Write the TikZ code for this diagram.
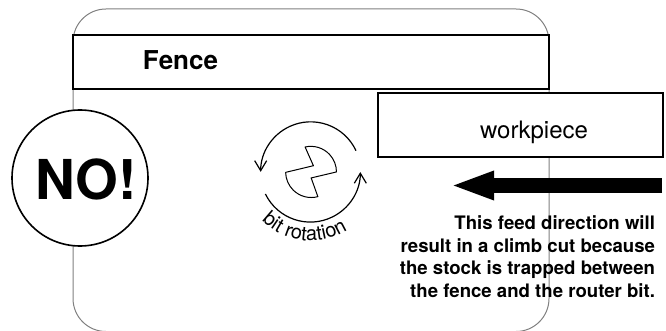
\documentclass[tikz,border=0pt]{standalone}
\usepackage{fontspec}
\setmainfont{TeX Gyre Heros}
\usetikzlibrary{arrows.meta,decorations.text}

\begin{document}
\begin{tikzpicture}[x=1pt,y=-1pt]

\tikzstyle{every node}=[inner sep=0pt,outer sep=0pt]
\tikzstyle{table}=[draw=black!50,line width=1pt]
\tikzstyle{stock}=[draw,line width=1.6pt,fill=white,rectangle]
\tikzstyle{bit}=[line width=1pt,line join=round]
\tikzstyle{spin}=[line width=1.2pt,-{Straight Barb[length=10pt,width=12pt,line width=1.2pt]}]

\useasboundingbox (0,0) rectangle (666,331);

\draw[table,rounded corners=33pt] (73,9) rectangle (549,331.5);

\node[stock,minimum width=476pt,minimum height=54pt] (fence) at (311,62) {};
\node[font=\bfseries\fontsize{26}{30}\selectfont] (fence_label) at (180.5,60) {Fence};

\node[stock,minimum width=285pt,minimum height=64pt] (workpiece) at (520.5,125) {};
\node[font=\fontsize{24}{28}\selectfont] (workpiece_label) at (534,132) {workpiece};

\node[stock,circle,minimum size=136pt] (no) at (80,178) {};
\node[font=\bfseries\fontsize{55}{60}\selectfont] (no_label) at (86,179) {NO!};

\pgfmathsetmacro\x{310.7}
\pgfmathsetmacro\y{171.7}

\coordinate (bit_center) at (\x,\y);

\draw[bit] (bit_center) ++(2.7,-6) -- ++(-8.3,-18.7)
  arc[start angle=103,end angle=0,radius=25.6pt]
  -- ++(-25.3,6) -- ++(6.7,18.7)
  arc[start angle=285,end angle=181,radius=25.6pt] -- cycle;

\draw[spin] (bit_center) ++(45.3,-21) arc[start angle=25,end angle=180,radius=50pt];
\draw[spin] (bit_center) ++(-45.3,22.3) arc[start angle=206,end angle=360,radius=50pt];

\path[decorate,decoration={text along path,text align=center,
  text={|\fontsize{20}{22}\selectfont|bit rotation}}]
  (bit_center) ++(-56.5,39.6) arc[start angle=215,end angle=312,radius=69pt];

\coordinate (feed_start) at (662,185.5);
\coordinate (feed_end) at (450,185.5);
\draw[line width=15pt,-{Triangle[length=44pt,width=26pt]}] (feed_start) -- (feed_end);

\node[font=\bfseries\fontsize{18.6}{22.5}\selectfont,align=right,anchor=north east] (note) at (655,216)
{This feed direction will\\
result in a climb cut because\\
the stock is trapped between\\
the fence and the router bit.};

\end{tikzpicture}
\end{document}
